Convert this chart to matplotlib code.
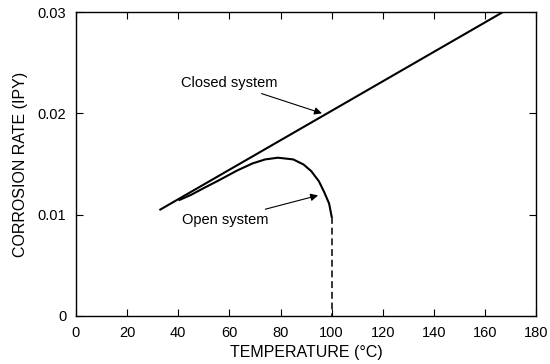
import matplotlib.pyplot as plt
import numpy as np

# closed system: straight line
closed_temp = [33, 167]
closed_rate = [0.0105, 0.0300]

# open system: rises just under the closed line, peaks near 80 C, falls to boiling point
open_temp = [40.5, 45, 50, 56, 63, 69, 74, 79, 85, 89, 92, 95, 97, 99, 100]
open_rate = [0.01145, 0.01195, 0.01262, 0.01340, 0.01435, 0.01505, 0.01545, 0.01562,
             0.01545, 0.01495, 0.01430, 0.01330, 0.01227, 0.01110, 0.00980]

# dashed drop at 100 C
drop_temp = [100, 100]
drop_rate = [0.0098, 0.0]

plt.rcParams['font.family'] = ['Liberation Sans', 'DejaVu Sans']

fig = plt.figure(figsize=(5.5, 3.64), dpi=100)
ax = fig.add_axes([0.138, 0.132, 0.837, 0.835])

ax.plot(closed_temp, closed_rate, color='black', linewidth=1.5)
ax.plot(open_temp, open_rate, color='black', linewidth=1.5)
ax.plot(drop_temp, drop_rate, color='black', linewidth=1.1, linestyle=(0, (4.5, 2.5)))

arrow = dict(arrowstyle='-|>', color='black', lw=0.8, mutation_scale=11,
             shrinkA=2, shrinkB=0)
ax.annotate("Closed system", xy=(96.2, 0.0200), xytext=(41, 0.0230),
            fontsize=10.5, va='center', ha='left', arrowprops=arrow)
ax.annotate("Open system", xy=(94.7, 0.0119), xytext=(41.5, 0.0095),
            fontsize=10.5, va='center', ha='left', arrowprops=arrow)

ax.set_xlim(0, 180)
ax.set_ylim(0, 0.03)
ax.set_xticks(np.arange(0, 181, 20))
ax.set_yticks([0, 0.01, 0.02, 0.03])
ax.set_yticklabels(['0', '0.01', '0.02', '0.03'])
ax.tick_params(direction='in', top=True, right=True, length=5, width=0.8, labelsize=10.5, pad=7)
for s in ax.spines.values():
    s.set_linewidth(1.0)

ax.set_xlabel("TEMPERATURE (°C)", fontsize=11.5)
ax.set_ylabel("CORROSION RATE (IPY)", fontsize=11.5)
ax.xaxis.set_label_coords(0.5, -0.095)
ax.yaxis.set_label_coords(-0.105, 0.5)

fig.savefig("out.png", dpi=100)
